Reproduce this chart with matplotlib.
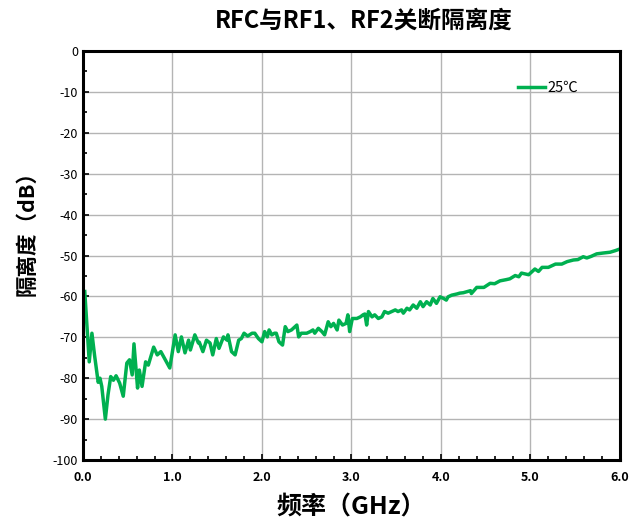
import matplotlib
matplotlib.use("Agg")
import matplotlib.pyplot as plt
from matplotlib.ticker import MultipleLocator, FormatStrFormatter

plt.rcParams['font.family'] = ['Noto Sans CJK SC', 'DejaVu Sans']
plt.rcParams['axes.unicode_minus'] = False

# 频率 (GHz) 与 隔离度 (dB)
freq = [0.02, 0.07, 0.10, 0.13, 0.17, 0.19, 0.21, 0.25, 0.28, 0.31, 0.34, 0.37, 0.41,
        0.45, 0.49, 0.52, 0.55, 0.57, 0.61, 0.63, 0.66, 0.70, 0.73, 0.79, 0.83, 0.87,
        0.94, 0.97,
        1.03, 1.065, 1.10, 1.14, 1.18, 1.20, 1.25, 1.29, 1.30, 1.34, 1.38, 1.42, 1.45,
        1.49, 1.52, 1.57, 1.61, 1.62, 1.66, 1.70, 1.74, 1.77, 1.80, 1.84, 1.89, 1.92,
        1.96, 2.00,
        2.03, 2.06, 2.08, 2.11, 2.14, 2.16, 2.19, 2.23, 2.26, 2.29, 2.33, 2.39, 2.41,
        2.44, 2.50, 2.54, 2.57, 2.59, 2.63, 2.67, 2.70, 2.74, 2.77, 2.80, 2.84, 2.86,
        2.90, 2.94, 2.96, 2.98, 3.01, 3.06, 3.10, 3.13, 3.15,
        3.17, 3.19, 3.23, 3.26, 3.30, 3.34, 3.37, 3.41, 3.45, 3.49, 3.52, 3.56, 3.58,
        3.62, 3.65, 3.69, 3.73, 3.77, 3.80, 3.84, 3.88, 3.91, 3.95, 3.99, 4.03, 4.06,
        4.08, 4.12, 4.18, 4.21,
        4.25, 4.33, 4.34, 4.40, 4.48, 4.55, 4.60, 4.66, 4.73, 4.77, 4.83, 4.87, 4.90,
        4.98, 5.02, 5.05, 5.09, 5.13, 5.20, 5.28, 5.35, 5.41, 5.48, 5.53, 5.59, 5.63,
        5.68, 5.74, 5.81, 5.89, 5.95, 6.00]
iso_25c = [-58.8, -76.0, -69.0, -74.5, -81.0, -80.0, -82.0, -90.0, -84.0, -79.6, -80.5,
           -79.4, -81.2, -84.4, -76.3, -75.5, -79.2, -71.6, -82.4, -78.0, -82.0, -76.0,
           -76.8, -72.4, -74.3, -73.5, -76.3, -77.5,
           -69.4, -73.5, -69.9, -73.8, -70.7, -73.1, -69.4, -71.4, -71.2, -73.5, -70.7,
           -71.4, -74.3, -70.3, -72.7, -69.9, -70.7, -69.4, -73.5, -74.3, -70.7, -70.3,
           -69.0, -69.7, -69.0, -69.0, -70.3, -71.1,
           -68.6, -69.9, -68.2, -69.4, -69.0, -69.0, -71.1, -71.9, -67.4, -68.6, -68.2,
           -67.0, -69.9, -69.0, -69.0, -68.6, -68.2, -69.0, -67.8, -68.6, -69.4, -66.2,
           -67.4, -66.6, -68.2, -65.8, -67.0, -66.6, -64.5, -68.6, -65.4, -65.4, -65.0,
           -64.5, -64.3,
           -67.0, -63.7, -65.0, -64.5, -65.4, -65.0, -63.7, -64.1, -63.7, -63.3, -63.7,
           -63.3, -64.1, -62.9, -63.3, -62.1, -62.9, -61.3, -62.5, -61.3, -62.1, -60.5,
           -61.7, -60.1, -60.5, -60.9, -60.1, -59.7, -59.4, -59.2,
           -59.1, -58.6, -59.3, -57.8, -57.8, -56.8, -56.9, -56.2, -55.9, -55.7, -54.9,
           -55.2, -54.3, -54.7, -53.9, -53.3, -53.9, -52.9, -52.9, -52.1, -52.1, -51.5,
           -51.1, -51.0, -50.3, -50.6, -50.2, -49.6, -49.4, -49.2, -48.8, -48.4]

fig = plt.figure(figsize=(6.3, 5.24), dpi=100)
ax = fig.add_axes([0.1317, 0.1221, 0.8523, 0.7806])

ax.plot(freq, iso_25c, color='#00b050', linewidth=2.5, label='25℃')

ax.set_xlim(0, 6)
ax.set_ylim(-100, 0)
ax.xaxis.set_major_locator(MultipleLocator(1))
ax.xaxis.set_minor_locator(MultipleLocator(0.2))
ax.yaxis.set_major_locator(MultipleLocator(10))
ax.yaxis.set_minor_locator(MultipleLocator(5))
ax.xaxis.set_major_formatter(FormatStrFormatter('%.1f'))
ax.grid(True, which='major', color='#b4b4b4', linewidth=1.0)
ax.tick_params(which='both', direction='in', width=1.2)
ax.tick_params(which='major', length=4, labelsize=9)
ax.tick_params(which='minor', length=3)
ax.tick_params(axis='x', pad=8)
for lab in ax.get_xticklabels():
    lab.set_fontweight('bold')
for sp in ax.spines.values():
    sp.set_linewidth(2.2)

fig.text(0.578, 0.96, 'RFC与RF1、RF2关断隔离度', fontsize=17, fontweight='bold',
         ha='center', va='center')
ax.set_xlabel('频率（GHz）', fontsize=18, fontweight='bold', va='center')
ax.xaxis.set_label_coords(0.5, -0.115)
ax.set_ylabel('隔离度（dB）', fontsize=15.5, fontweight='bold', va='center')
ax.yaxis.set_label_coords(-0.104, 0.568)

ax.legend(loc='center left', bbox_to_anchor=(0.81, 0.9095), frameon=False,
          fontsize=10.5, handlelength=1.85, handletextpad=0.15,
          borderaxespad=0, borderpad=0)

fig.savefig('out.png', dpi=100)
